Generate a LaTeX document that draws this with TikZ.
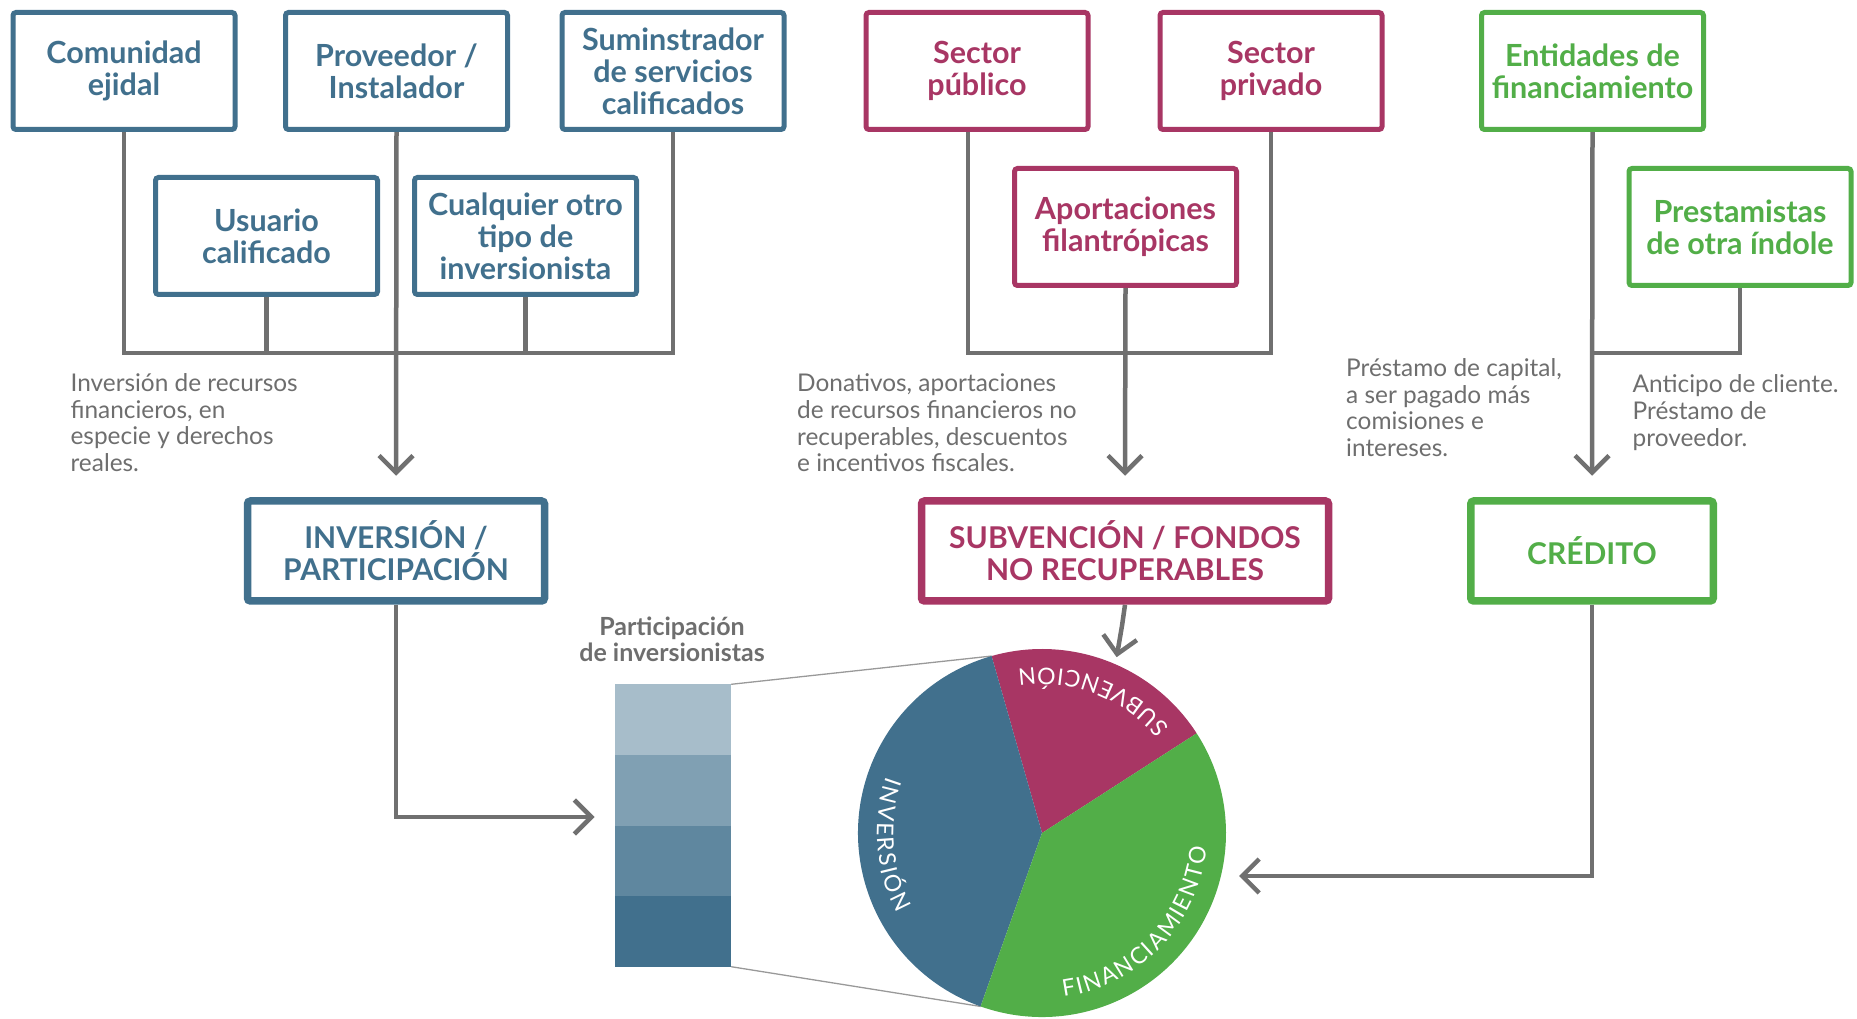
\documentclass[tikz,border=0pt]{standalone}
\usepackage{fontspec}
\setmainfont{Lato}
\usetikzlibrary{arrows.meta,backgrounds,decorations.text,positioning}

\definecolor{blu}{HTML}{41708D}
\definecolor{mag}{HTML}{A83664}
\definecolor{grn}{HTML}{52AE48}
\definecolor{lgray}{HTML}{707070}
\definecolor{tgray}{HTML}{6E6E6E}
\definecolor{bar1}{HTML}{A7BDCA}
\definecolor{bar2}{HTML}{80A0B3}
\definecolor{bar3}{HTML}{5F879F}
\definecolor{bar4}{HTML}{41708D}

\newcommand{\pielab}{\fontsize{23}{23}\selectfont}

\begin{document}
\begin{tikzpicture}[x=1pt, y=1pt,
    ent/.style = {draw, line width=5pt, rounded corners=3pt, fill=white, align=center, inner sep=0pt,
                  minimum width=222pt, minimum height=117pt, font=\fontsize{30.5}{32}\selectfont\bfseries},
    bbox/.style = {ent, draw=blu, text=blu},
    mbox/.style = {ent, draw=mag, text=mag},
    gbox/.style = {ent, draw=grn, text=grn},
    big/.style = {line width=7.5pt, minimum height=100pt, font=\fontsize{30}{32}\selectfont\bfseries},
    link/.style = {draw=lgray, line width=4.5pt},
    arr/.style = {link, -{Straight Barb[length=17pt, width=34pt]}},
    note/.style = {anchor=base west, align=left, inner sep=0pt, text=tgray, font=\fontsize{24.4}{26.6}\selectfont},
    seg/.style = {inner sep=0pt, minimum width=116pt, minimum height=70.5pt},
    guide/.style = {draw=gray!80, line width=1.3pt},
    pietext/.style = {decorate, decoration={text along path, text align={fit to path}, text color=white, text={|\pielab|#1}}}]

    \useasboundingbox (0,0) rectangle (1857,1018);

    \node[bbox] (com) at (124, 947) {Comunidad\\ejidal};
    \node[bbox] (prov) at (396.5, 947) {Proveedor /\\Instalador};
    \node[bbox] (sum) at (673, 947) {Suminstrador\\de servicios\\calificados};
    \node[bbox] (usu) at (266.5, 782) {Usuario\\calificado};
    \node[bbox] (cua) at (525.5, 782) {Cualquier otro\\tipo de\\inversionista};

    \node[mbox] (pub) at (977, 947) {Sector\\público};
    \node[mbox] (pri) at (1271, 947) {Sector\\privado};
    \node[mbox] (apo) at (1125.5, 791) {Aportaciones\\filantrópicas};

    \node[gbox] (ent) at (1592.5, 947) {Entidades de\\financiamiento};
    \node[gbox] (pre) at (1740, 791) {Prestamistas\\de otra índole};

    \node[bbox, big, minimum width=297pt] (inv) at (396, 467) {INVERSIÓN /\\PARTICIPACIÓN};
    \node[mbox, big, minimum width=407pt] (sub) at (1125, 467) {SUBVENCIÓN / FONDOS\\NO RECUPERABLES};
    \node[gbox, big, minimum width=242.5pt] (cre) at (1592, 467) {CRÉDITO};

    % base = last line of each note
    \node[note] (n1) at (70.4, 546.5) {Inversión de recursos\\financieros, en\\especie y derechos\\reales.};
    \node[note] (n2) at (797, 546.2) {Donativos, aportaciones\\de recursos financieros no\\recuperables, descuentos\\e incentivos fiscales.};
    \node[note] (n3) at (1346, 561.5) {Préstamo de capital,\\a ser pagado más\\comisiones e\\intereses.};
    \node[note] (n4) at (1632.5, 571.8) {Anticipo de cliente.\\Préstamo de\\proveedor.};

    \node[anchor=base, align=center, inner sep=0pt, text=tgray, font=\fontsize{25}{26.5}\selectfont\bfseries] (par) at (672, 356) {Participación\\de inversionistas};

    \node[seg, fill=bar1] (p1) at (673, 298.25) {};
    \node[seg, fill=bar2] (p2) at (673, 227.75) {};
    \node[seg, fill=bar3] (p3) at (673, 157.25) {};
    \node[seg, fill=bar4] (p4) at (673, 86.75) {};

    \coordinate (pc) at (1042, 185);
    \coordinate (pa) at ([shift={(105.9:184)}]pc);
    \coordinate (pb) at ([shift={(250.5:184)}]pc);
    \coordinate (ain) at (594.5, 201);
    \coordinate (acr) at (1239, 142);

    \draw[guide] (p1.north east) -- (pa);
    \draw[guide] (p4.south east) -- (pb);

    \fill[mag] (pc) -- ++(32.8:184) arc (32.8:105.9:184) -- cycle;
    \fill[blu] (pc) -- ++(105.9:184) arc (105.9:250.5:184) -- cycle;
    \fill[grn] (pc) -- ++(250.5:184) arc (250.5:392.8:184) -- cycle;

    \path[pietext=SUBVENCIÓN] ([shift={(39.5:165)}]pc) arc (39.5:98.5:165);
    \path[pietext=INVERSIÓN] ([shift={(160:165)}]pc) arc (160:209:165);
    \path[pietext=FINANCIAMIENTO] ([shift={(-82.5:165)}]pc) arc (-82.5:-5:165);

    \begin{scope}[on background layer]
    \draw[link] (com.south) -- (com.south |- 0,665) -- (sum.south |- 0,665) -- (sum.south);
    \draw[link] (usu.south) -- (usu.south |- 0,665);
    \draw[link] (cua.south) -- (cua.south |- 0,665);
    \draw[arr] (prov.south) -- ([yshift=21.5pt]inv.north);

    \draw[link] ([xshift=-9pt]pub.south) |- (pri.south |- 0,665) -- (pri.south);
    \draw[arr] (apo.south) -- ([yshift=21.5pt]sub.north);

    \draw[link] (pre.south) |- (ent.south |- 0,665);
    \draw[arr] (ent.south) -- ([yshift=21.5pt]cre.north);

    \draw[arr] (inv.south) |- (ain);
    \draw[arr] (sub.south) -- ++(-3,-21) -- ([shift={(67:191)}]pc);
    \draw[arr] (cre.south) |- (acr);
    \end{scope}

\end{tikzpicture}
\end{document}
